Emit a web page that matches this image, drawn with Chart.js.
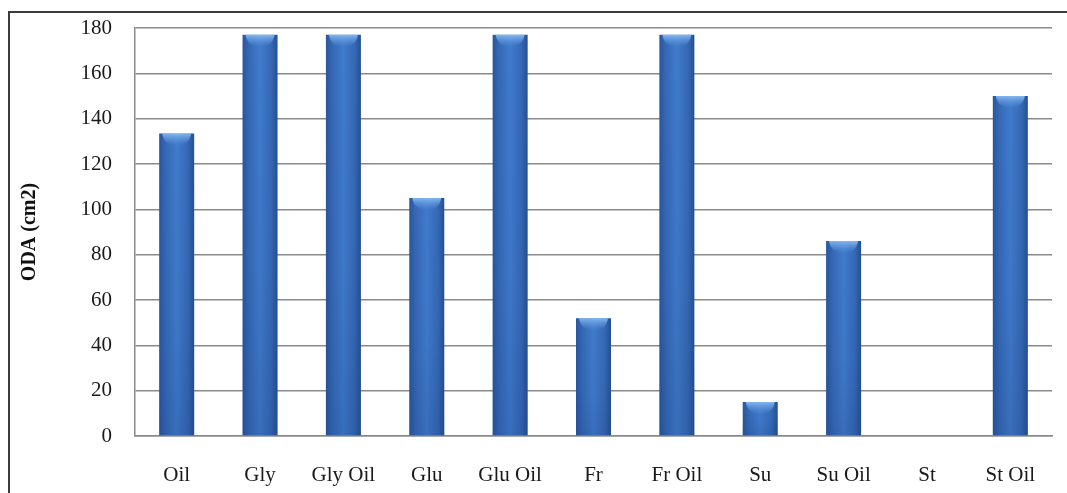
<!DOCTYPE html>
<html>
<head>
<meta charset="utf-8">
<title>ODA (cm2)</title>
<script src="https://cdn.jsdelivr.net/npm/chart.js@4/dist/chart.umd.min.js"></script>
<style>
  html, body { margin: 0; padding: 0; background: #ffffff; }
  #wrap { width: 1067px; height: 493px; position: relative; }
</style>
</head>
<body>
<div id="wrap"><canvas id="c" width="1067" height="493"></canvas></div>
<script>
// Treatments and measured ODA values
const categories = ['Oil', 'Gly', 'Gly Oil', 'Glu', 'Glu Oil', 'Fr', 'Fr Oil', 'Su', 'Su Oil', 'St', 'St Oil'];
const odaValues = [133.5, 177, 177, 105, 177, 52, 177, 15, 86, 0, 150];
const yTicks = [0, 20, 40, 60, 80, 100, 120, 140, 160, 180];
const yTitle = 'ODA (cm2)';

const BAR_FRACTION = 0.42;

// Cylinder-like horizontal shading for each bar, placed from the category scale
function barFill(ctx) {
  const chart = ctx.chart;
  const xs = chart.scales.x;
  if (!xs || !chart.chartArea) return '#3a70c0';
  const cx = xs.getPixelForValue(ctx.dataIndex);
  const w = (xs.width / categories.length) * BAR_FRACTION;
  const g = chart.ctx.createLinearGradient(cx - w / 2, 0, cx + w / 2, 0);
  g.addColorStop(0.0, '#28569c');
  g.addColorStop(0.18, '#3568b5');
  g.addColorStop(0.5, '#407bcc');
  g.addColorStop(0.82, '#3568b5');
  g.addColorStop(1.0, '#25508f');
  return g;
}

// Outer frame of the figure
const framePlugin = {
  id: 'frame',
  beforeDraw(chart) {
    const c = chart.ctx;
    c.save();
    c.fillStyle = '#ffffff';
    c.fillRect(0, 0, chart.width, chart.height);
    c.strokeStyle = '#3c3c3c';
    c.lineWidth = 2;
    c.strokeRect(9, 12, chart.width + 10, chart.height + 10);
    c.restore();
  }
};

// Light bevel on the top of each bar and a slight darkening near the base
const bevelPlugin = {
  id: 'bevel',
  afterDatasetsDraw(chart) {
    const c = chart.ctx;
    const meta = chart.getDatasetMeta(0);
    meta.data.forEach((bar) => {
      const p = bar.getProps(['x', 'y', 'base', 'width'], true);
      const h = p.base - p.y;
      if (h <= 1) return;
      const left = p.x - p.width / 2;
      const capH = Math.min(12, h);
      c.save();
      const g = c.createLinearGradient(0, p.y, 0, p.y + capH);
      g.addColorStop(0, 'rgba(140,190,245,0.9)');
      g.addColorStop(0.6, 'rgba(110,165,230,0.4)');
      g.addColorStop(1, 'rgba(90,150,220,0)');
      c.fillStyle = g;
      c.beginPath();
      c.moveTo(left + 3, p.y);
      c.lineTo(left + p.width - 3, p.y);
      c.quadraticCurveTo(left + p.width - 5, p.y + capH, left + p.width / 2, p.y + capH);
      c.quadraticCurveTo(left + 5, p.y + capH, left + 3, p.y);
      c.closePath();
      c.fill();
      const d = c.createLinearGradient(0, p.y, 0, p.base);
      d.addColorStop(0, 'rgba(20,50,110,0)');
      d.addColorStop(0.6, 'rgba(20,50,110,0.05)');
      d.addColorStop(1, 'rgba(20,50,110,0.18)');
      c.fillStyle = d;
      c.fillRect(left, p.y + capH, p.width, h - capH);
      c.restore();
    });
  }
};

new Chart(document.getElementById('c'), {
  type: 'bar',
  data: {
    labels: categories,
    datasets: [{
      label: yTitle,
      data: odaValues,
      backgroundColor: barFill,
      borderWidth: 0,
      categoryPercentage: 1,
      barPercentage: BAR_FRACTION
    }]
  },
  options: {
    responsive: false,
    animation: false,
    devicePixelRatio: 1,
    layout: { padding: { top: 28, right: 15, bottom: 0, left: 0 } },
    plugins: {
      legend: { display: false },
      tooltip: { enabled: false }
    },
    scales: {
      x: {
        grid: { display: false, drawTicks: false },
        border: { display: true, color: '#8a8a8a', width: 1.5 },
        ticks: {
          color: '#1a1a1a',
          font: { family: '"Liberation Serif", "Times New Roman", serif', size: 21 },
          padding: 27,
          maxRotation: 0,
          autoSkip: false
        },
        afterFit(scale) {
          scale.height = 57;
          scale.paddingLeft = 0;
          scale.paddingRight = 0;
        }
      },
      y: {
        min: 0,
        max: 180,
        afterBuildTicks(scale) { scale.ticks = yTicks.map(v => ({ value: v })); },
        grid: { color: '#8a8a8a', lineWidth: 1.5, drawTicks: false },
        border: { display: true, color: '#8a8a8a', width: 1.5 },
        ticks: {
          color: '#1a1a1a',
          font: { family: '"Liberation Serif", "Times New Roman", serif', size: 21 },
          padding: 23
        },
        title: {
          display: true,
          text: yTitle,
          color: '#111111',
          font: { family: '"Liberation Serif", "Times New Roman", serif', size: 20, weight: 'bold' },
          padding: { top: 18, bottom: 0 }
        },
        afterFit(scale) {
          scale.width = 135;
          scale.paddingTop = 0;
          scale.paddingBottom = 0;
        }
      }
    }
  },
  plugins: [framePlugin, bevelPlugin]
});
</script>
</body>
</html>
